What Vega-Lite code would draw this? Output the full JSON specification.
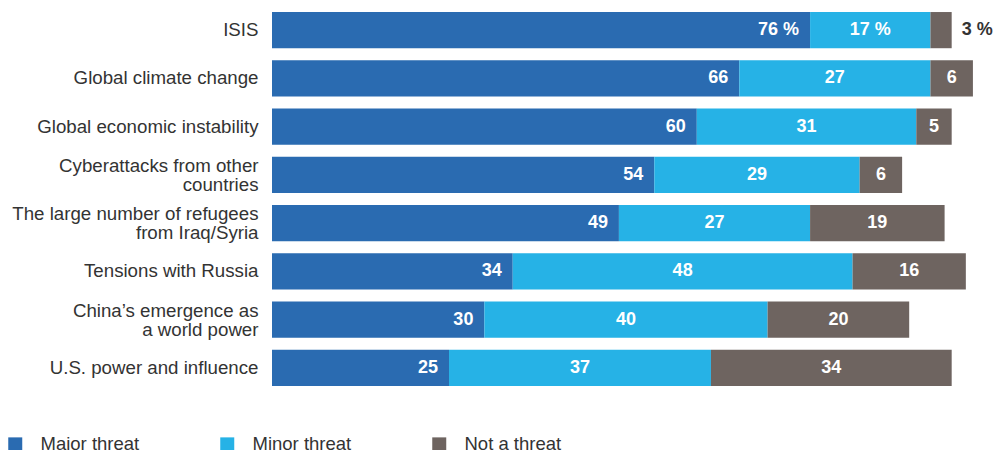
{
  "$schema": "https://vega.github.io/schema/vega-lite/v6.json",
  "width": 708,
  "height": 386,
  "autosize": {"type": "none"},
  "padding": {"left": 272, "top": 6, "right": 14, "bottom": 58},
  "background": "white",
  "config": {
    "view": {"stroke": null},
    "font": "Liberation Sans"
  },
  "data": {
    "values": [
      {"category": "ISIS", "type": "Major threat", "ord": 1, "value": 76, "label": "76 %"},
      {"category": "ISIS", "type": "Minor threat", "ord": 2, "value": 17, "label": "17 %"},
      {"category": "ISIS", "type": "Not a threat", "ord": 3, "value": 3, "label": "3 %"},
      {"category": "Global climate change", "type": "Major threat", "ord": 1, "value": 66, "label": "66"},
      {"category": "Global climate change", "type": "Minor threat", "ord": 2, "value": 27, "label": "27"},
      {"category": "Global climate change", "type": "Not a threat", "ord": 3, "value": 6, "label": "6"},
      {"category": "Global economic instability", "type": "Major threat", "ord": 1, "value": 60, "label": "60"},
      {"category": "Global economic instability", "type": "Minor threat", "ord": 2, "value": 31, "label": "31"},
      {"category": "Global economic instability", "type": "Not a threat", "ord": 3, "value": 5, "label": "5"},
      {"category": "Cyberattacks from other countries", "type": "Major threat", "ord": 1, "value": 54, "label": "54"},
      {"category": "Cyberattacks from other countries", "type": "Minor threat", "ord": 2, "value": 29, "label": "29"},
      {"category": "Cyberattacks from other countries", "type": "Not a threat", "ord": 3, "value": 6, "label": "6"},
      {"category": "The large number of refugees from Iraq/Syria", "type": "Major threat", "ord": 1, "value": 49, "label": "49"},
      {"category": "The large number of refugees from Iraq/Syria", "type": "Minor threat", "ord": 2, "value": 27, "label": "27"},
      {"category": "The large number of refugees from Iraq/Syria", "type": "Not a threat", "ord": 3, "value": 19, "label": "19"},
      {"category": "Tensions with Russia", "type": "Major threat", "ord": 1, "value": 34, "label": "34"},
      {"category": "Tensions with Russia", "type": "Minor threat", "ord": 2, "value": 48, "label": "48"},
      {"category": "Tensions with Russia", "type": "Not a threat", "ord": 3, "value": 16, "label": "16"},
      {"category": "China’s emergence as a world power", "type": "Major threat", "ord": 1, "value": 30, "label": "30"},
      {"category": "China’s emergence as a world power", "type": "Minor threat", "ord": 2, "value": 40, "label": "40"},
      {"category": "China’s emergence as a world power", "type": "Not a threat", "ord": 3, "value": 20, "label": "20"},
      {"category": "U.S. power and influence", "type": "Major threat", "ord": 1, "value": 25, "label": "25"},
      {"category": "U.S. power and influence", "type": "Minor threat", "ord": 2, "value": 37, "label": "37"},
      {"category": "U.S. power and influence", "type": "Not a threat", "ord": 3, "value": 34, "label": "34"}
    ]
  },
  "encoding": {
    "y": {
      "field": "category",
      "type": "nominal",
      "sort": null,
      "title": null,
      "scale": {"paddingInner": 0.25, "paddingOuter": 0.125},
      "axis": {
        "domain": false,
        "ticks": false,
        "labelPadding": 14,
        "labelFontSize": 18.7,
        "labelColor": "#333333",
        "labelLimit": 300,
        "labelLineHeight": 19,
        "labelOffset": {"condition": {"test": "length(datum.value) > 30", "value": -9}, "value": 0},
        "labelExpr": "datum.value === 'Cyberattacks from other countries' ? ['Cyberattacks from other', 'countries'] : datum.value === 'The large number of refugees from Iraq/Syria' ? ['The large number of refugees', 'from Iraq/Syria'] : datum.value === 'China’s emergence as a world power' ? ['China’s emergence as', 'a world power'] : datum.value"
      }
    },
    "x": {
      "field": "value",
      "type": "quantitative",
      "stack": "zero",
      "scale": {"domain": [0, 100]},
      "axis": null
    },
    "order": {"field": "ord", "type": "quantitative"}
  },
  "layer": [
    {
      "mark": {"type": "bar"},
      "encoding": {
        "color": {
          "field": "type",
          "type": "nominal",
          "scale": {
            "domain": ["Major threat", "Minor threat", "Not a threat"],
            "range": ["#2a6bb1", "#26b2e6", "#6e6460"]
          },
          "legend": {
            "title": null,
            "orient": "none",
            "direction": "horizontal",
            "legendX": -266,
            "legendY": 429,
            "padding": 0,
            "symbolType": "square",
            "symbolSize": 196,
            "symbolStrokeWidth": 0,
            "labelFontSize": 18.5,
            "labelColor": "#333333",
            "labelOffset": 16,
            "columnPadding": 78
          }
        }
      }
    },
    {
      "mark": {"type": "text", "align": "right", "dx": -11, "fontSize": 18, "fontWeight": "bold", "color": "white"},
      "encoding": {
        "detail": {"field": "type"},
        "text": {"condition": {"test": "datum.type === 'Major threat'", "field": "label"}, "value": ""}
      }
    },
    {
      "mark": {"type": "text", "align": "center", "fontSize": 18, "fontWeight": "bold", "color": "white"},
      "encoding": {
        "detail": {"field": "type"},
        "x": {"field": "value", "type": "quantitative", "stack": "zero", "bandPosition": 0.5},
        "text": {"condition": {"test": "datum.type !== 'Major threat' && !(datum.category === 'ISIS' && datum.type === 'Not a threat')", "field": "label"}, "value": ""}
      }
    },
    {
      "mark": {"type": "text", "align": "left", "dx": 10, "fontSize": 18, "fontWeight": "bold", "color": "#333333"},
      "encoding": {
        "detail": {"field": "type"},
        "text": {"condition": {"test": "datum.category === 'ISIS' && datum.type === 'Not a threat'", "field": "label"}, "value": ""}
      }
    }
  ]
}
